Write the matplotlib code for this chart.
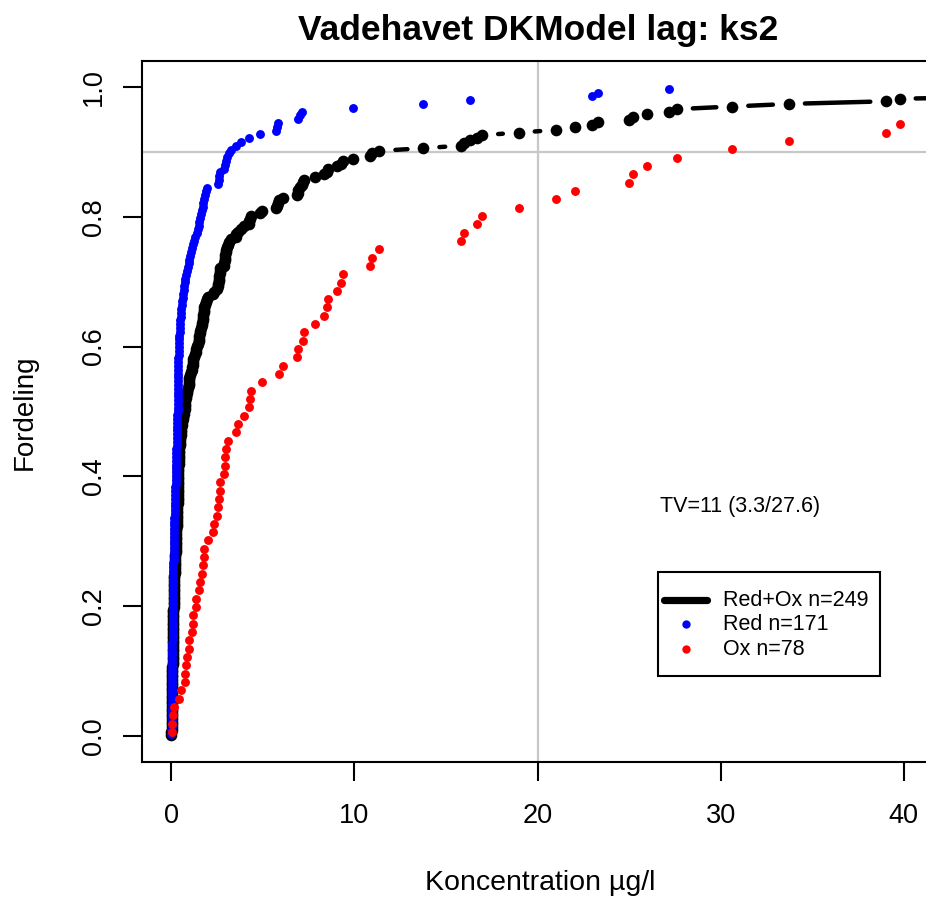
import numpy as np
import matplotlib
matplotlib.use("Agg")
import matplotlib.pyplot as plt
from matplotlib.collections import LineCollection
from matplotlib.transforms import IdentityTransform
from matplotlib.patches import Rectangle
from matplotlib.lines import Line2D

plt.rcParams['font.family'] = ['Liberation Sans', 'DejaVu Sans']

# concentrations (ug/l), sorted
red_conc = [
    0.01, 0.01, 0.02, 0.02, 0.02,
    0.02, 0.03, 0.03, 0.03, 0.03, 0.03, 0.04,
    0.04, 0.04, 0.04, 0.05, 0.05, 0.05, 0.05, 0.05, 0.06, 0.06,
    0.06, 0.06, 0.06, 0.07, 0.07, 0.07, 0.07, 0.08, 0.08, 0.08, 0.08,
    0.09, 0.09, 0.09, 0.10, 0.10, 0.10, 0.10, 0.11,
    0.11, 0.11, 0.12, 0.12, 0.12, 0.13, 0.13,
    0.13, 0.14, 0.14, 0.15, 0.15, 0.15,
    0.16, 0.16, 0.17, 0.17, 0.18, 0.18,
    0.19, 0.19, 0.20, 0.21, 0.22,
    0.22, 0.23, 0.24, 0.25, 0.25, 0.26,
    0.26, 0.27, 0.27, 0.28, 0.28,
    0.29, 0.29, 0.30, 0.30, 0.31,
    0.31, 0.32, 0.32, 0.33, 0.34, 0.34,
    0.35, 0.35, 0.36, 0.36, 0.36, 0.37,
    0.37, 0.37, 0.38, 0.38, 0.38, 0.39,
    0.39, 0.40, 0.40, 0.41, 0.42, 0.43,
    0.44, 0.45, 0.46, 0.47, 0.49,
    0.51, 0.53, 0.55, 0.57, 0.59,
    0.62, 0.65, 0.68, 0.71, 0.74,
    0.77, 0.81, 0.86, 0.91, 0.96,
    0.99, 1.04, 1.08, 1.13, 1.19,
    1.26, 1.32, 1.38, 1.44, 1.49,
    1.54, 1.58, 1.63, 1.67, 1.71,
    1.75, 1.79, 1.83, 1.90, 1.93,
    2.53, 2.58, 2.62, 2.66, 2.90,
    2.93, 2.99, 3.03, 3.17, 3.26,
    3.52, 3.81, 4.26, 4.85, 5.70,
    5.76, 5.82, 6.90, 7.02, 7.14,
    9.91, 13.77, 16.34, 23.00, 23.30, 27.20,
]

ox_conc = [
    0.04, 0.05, 0.11, 0.15, 0.40, 0.55, 0.73, 0.77, 0.80, 0.87,
    0.95, 0.98, 1.13, 1.19, 1.21, 1.34, 1.36, 1.53, 1.57, 1.68,
    1.75, 1.76, 1.79, 2.00, 2.30, 2.31, 2.48, 2.55, 2.59, 2.65,
    2.67, 2.88, 2.92, 2.95, 2.97, 3.10, 3.53, 3.62, 3.99, 4.26,
    4.32, 4.37, 4.96, 5.90, 6.12, 6.85, 6.90, 7.18, 7.27, 7.87,
    8.32, 8.49, 8.56, 9.05, 9.29, 9.36, 10.87, 10.97, 11.37, 15.83,
    16.01, 16.70, 16.98, 18.98, 21.02, 22.04, 24.99, 25.20, 26.00, 27.61,
    30.64, 33.73, 39.05, 39.78, 48.50, 56.20, 73.00, 112.00,
]

x_ticks = [0, 10, 20, 30, 40]
y_ticks = [0.0, 0.2, 0.4, 0.6, 0.8, 1.0]
ref_x = 20
ref_y = 0.9
tv_label = 'TV=11 (3.3/27.6)'
leg_labels = ['Red+Ox n=249', 'Red n=171', 'Ox n=78']


def positions(vals):
    v = np.sort(np.asarray(vals, dtype=float))
    n = len(v)
    return v, (np.arange(1, n + 1) - 0.5) / n


def type_b_line(ax, x, y, gap, **kw):
    # lines between points with a gap around each point, like R type="b"
    pts = ax.transData.transform(np.column_stack([x, y]))
    segs = []
    for p0, p1 in zip(pts[:-1], pts[1:]):
        d = p1 - p0
        dist = np.hypot(d[0], d[1])
        if dist > 2 * gap:
            u = d / dist
            segs.append([p0 + u * gap, p1 - u * gap])
    lc = LineCollection(segs, transform=IdentityTransform(), **kw)
    ax.add_collection(lc, autolim=False)
    lc.set_clip_box(ax.bbox)


W, H = 926, 897
fig = plt.figure(figsize=(W / 100, H / 100), dpi=100)
ax = fig.add_axes([142 / W, 1 - 762 / H, (933 - 142) / W, (762 - 61) / H])
ax.set_xlim(-1.6, 41.6)
ax.set_ylim(-0.04, 1.04)

ax.axhline(ref_y, color='#c8c8c8', lw=1.6, zorder=1)
ax.axvline(ref_x, color='#c8c8c8', lw=1.6, zorder=1)

all_x, all_y = positions(red_conc + ox_conc)
rx, ry = positions(red_conc)
ox, oy = positions(ox_conc)

type_b_line(ax, all_x, all_y, 16, colors='black', linewidths=3.2,
            capstyle='round', zorder=2)
ax.plot(all_x, all_y, 'o', color='black', ms=8.4, mew=0, zorder=3)
ax.plot(rx, ry, 'o', color='#0000ff', ms=6.4, mew=0, zorder=4)
ax.plot(ox, oy, 'o', color='#ff0000', ms=6.4, mew=0, zorder=5)

ax.text(31.04, 0.353, tv_label, ha='center', va='center', fontsize=15.5)

for s in ax.spines.values():
    s.set_linewidth(1.5)
ax.set_xticks(x_ticks)
ax.set_xticklabels([str(t) for t in x_ticks])
ax.set_yticks(y_ticks)
ax.set_yticklabels(['%.1f' % t for t in y_ticks], rotation=90, va='center')
ax.tick_params(length=13.5, width=1.5, labelsize=19.5)
ax.tick_params(axis='x', pad=16)
ax.tick_params(axis='y', pad=12)

fig.text(538 / W, 1 - 40 / H, 'Vadehavet DKModel lag: ks2', ha='center',
         va='baseline', fontsize=25.5, fontweight='bold')
fig.text(540 / W, 1 - 890 / H, 'Koncentration µg/l', ha='center',
         va='baseline', fontsize=20.5)
fig.text(25 / W, 1 - 412 / H, 'Fordeling', rotation=90, ha='center',
         va='center', fontsize=20)

# legend box
fig.patches.append(Rectangle((658 / W, 1 - 676 / H), 222 / W, 104 / H,
                             transform=fig.transFigure, fill=False,
                             edgecolor='black', linewidth=1.5))
fig.lines.append(Line2D([664 / W, 707 / W], [1 - 600 / H] * 2,
                        transform=fig.transFigure, color='black', lw=5.2,
                        solid_capstyle='round'))
fig.lines.append(Line2D([686 / W], [1 - 624 / H], transform=fig.transFigure,
                        marker='o', color='#0000ff', ms=6, mew=0))
fig.lines.append(Line2D([686 / W], [1 - 649 / H], transform=fig.transFigure,
                        marker='o', color='#ff0000', ms=6, mew=0))
for lab, py in zip(leg_labels, [600, 624, 649]):
    fig.text(723 / W, 1 - py / H, lab, ha='left', va='center', fontsize=15.5)

fig.savefig('out.png', dpi=100)
